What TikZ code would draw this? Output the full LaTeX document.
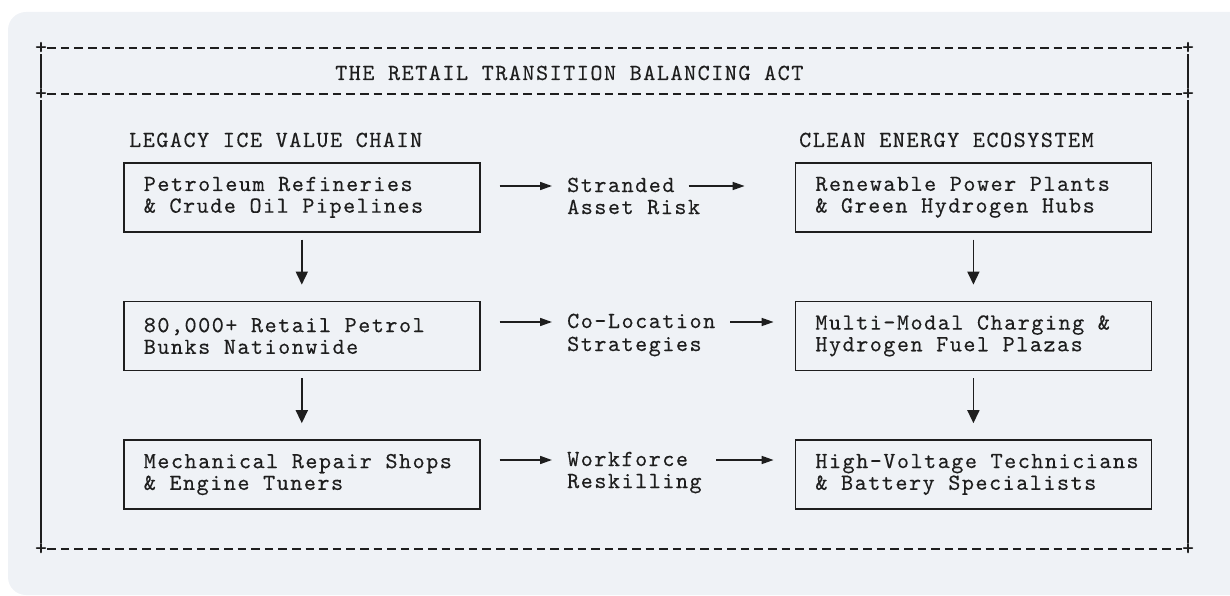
\documentclass[tikz,border=0pt]{standalone}
\usepackage{fontspec}
\newfontfamily\asciifont{lmmono10-regular.otf}[LetterSpace=6.6,FakeBold=0.3]
\usetikzlibrary{arrows.meta,positioning}
\definecolor{bgc}{HTML}{EFF2F6}
\definecolor{ink}{HTML}{1E1E1E}
\newcommand{\monosize}{\asciifont\fontsize{23pt}{21.7pt}\selectfont}
\newcommand{\twolines}[2]{\mbox{#1}\\\mbox{#2}}

\tikzset{
  box/.style={draw=ink, line width=1.6pt, anchor=north west, text=ink,
    text width=316pt, inner xsep=20pt, inner ysep=0pt, minimum height=69pt,
    align=left, font=\monosize, execute at begin node={\spaceskip=0pt\xspaceskip=0pt\relax}},
  lbl/.style={anchor=base west, inner sep=0pt, text=ink, font=\monosize,
    text height=15pt, text depth=3pt},
  plus/.style={inner sep=0pt, text=ink, font=\monosize},
  frame/.style={draw=ink, line width=1.5pt, dash pattern=on 8.5pt off 5.1pt},
  side/.style={draw=ink, line width=1.5pt},
  harr/.style={draw=ink, line width=1.6pt, -{Triangle[length=12pt,width=8pt]}},
  varr/.style={draw=ink, line width=1.6pt, -{Triangle[length=13pt,width=12pt]},
    shorten <=7pt, shorten >=16pt}
}

\begin{document}
\begin{tikzpicture}[x=1pt,y=-1pt]
\useasboundingbox (0,0) rectangle (1230,596);
\fill[bgc, rounded corners=18pt] (8,12) rectangle (1260,595);

\node[plus] (tl) at (41,48) {+};
\node[plus] (tr) at (1188,48) {+};
\node[plus] (ml) at (41,94) {+};
\node[plus] (mr) at (1188,94) {+};
\node[plus] (bl) at (41,549) {+};
\node[plus] (br) at (1188,549) {+};
\draw[frame] (tl) -- (tr) (ml) -- (mr) (bl) -- (br);
\draw[side] (tl) -- (ml) -- (bl) (tr) -- (mr) -- (br);

\node[lbl] (title) at (335,80) {THE RETAIL TRANSITION BALANCING ACT};
\node[lbl] (legacy) at (129,147) {LEGACY ICE VALUE CHAIN};
\node[lbl] (clean) at (799,147) {CLEAN ENERGY ECOSYSTEM};

\node[box] (pet) at (123,162) {\twolines{Petroleum Refineries}{\& Crude Oil Pipelines}};
\node[box, below=68pt of pet] (bunk) {\twolines{80,000+ Retail Petrol}{Bunks Nationwide}};
\node[box, below=68pt of bunk] (mech) {\twolines{Mechanical Repair Shops}{\& Engine Tuners}};
\node[box, right=314pt of pet] (ren) {\twolines{Renewable Power Plants}{\& Green Hydrogen Hubs}};
\node[box, below=68pt of ren] (plaza) {\twolines{Multi-Modal Charging \&}{Hydrogen Fuel Plazas}};
\node[box, below=68pt of plaza] (tech) {\twolines{High-Voltage Technicians}{\& Battery Specialists}};

\node[lbl] (str1) at (567,192) {Stranded};
\node[lbl] (str2) at (567,214) {Asset Risk};
\node[lbl] (col1) at (567,328) {Co-Location};
\node[lbl] (col2) at (567,351) {Strategies};
\node[lbl] (wrk1) at (567,466) {Workforce};
\node[lbl] (wrk2) at (567,488) {Reskilling};

\draw[harr, shorten <=19pt, shorten >=15pt] (pet.east |- str1) -- (str1.west);
\draw[harr, shorten <=14pt, shorten >=50pt] (str1.east) -- (ren.west |- str1);
\draw[harr, shorten <=19pt, shorten >=15pt] (bunk.east |- col1) -- (col1.west);
\draw[harr, shorten <=15pt, shorten >=21pt] (col1.east) -- (plaza.west |- col1);
\draw[harr, shorten <=19pt, shorten >=15pt] (mech.east |- wrk1) -- (wrk1.west);
\draw[harr, shorten <=28pt, shorten >=21pt] (wrk1.east) -- (tech.west |- wrk1);

\draw[varr] (pet) -- (bunk);
\draw[varr] (bunk) -- (mech);
\draw[varr] (ren) -- (plaza);
\draw[varr] (plaza) -- (tech);
\end{tikzpicture}
\end{document}
